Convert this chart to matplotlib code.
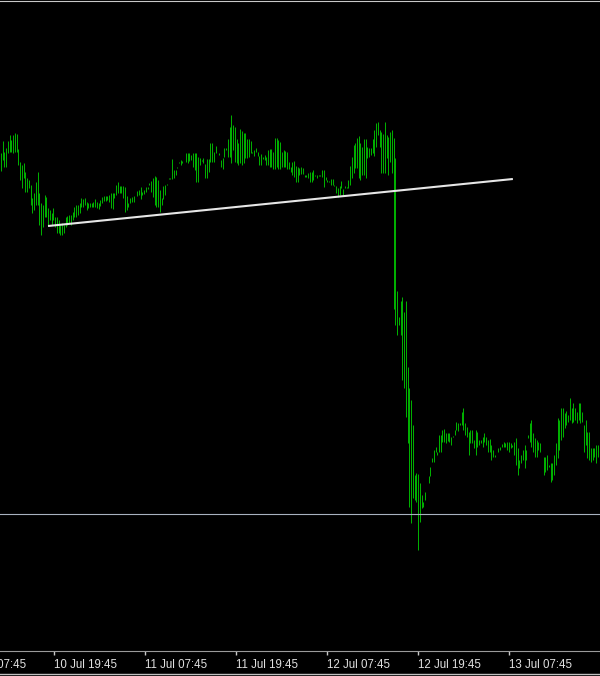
import numpy as np
import matplotlib
matplotlib.use("Agg")
import matplotlib.pyplot as plt

# bar highs / lows in points, oldest bar first
highs = [498, 510, 499, 503, 510, 516, 511, 516, 518, 517, 502, 489, 486, 488, 479, 473, 471, 466, 453, 458,
         469, 479, 458, 448, 446, 456, 454, 443, 441, 438, 443, 434, 434, 431, 426, 428, 426, 434, 435, 436,
         436, 439, 444, 446, 446, 448, 453, 452, 453, 449, 448, 448, 448, 449, 452, 449, 448, 451, 454, 455,
         455, 455, 456, 458, 458, 458, 466, 469, 465, 465, 465, 464, 455, 448, 453, 454, 455, 455, 460, 461,
         464, 459, 461, 464, 464, 468, 470, 473, 475, 474, 471, 461, 453, 452, 456, 466, 472, 473, 492, 481,
         481, 483, 489, 486, 488, 491, 498, 498, 498, 496, 498, 498, 498, 494, 493, 491, 493, 487, 492, 492,
         508, 508, 499, 505, 504, 498, 491, 493, 503, 503, 512, 524, 536, 526, 524, 512, 508, 522, 520, 518,
         518, 512, 512, 510, 498, 495, 499, 495, 495, 497, 492, 496, 494, 501, 502, 502, 499, 513, 513, 511,
         509, 499, 501, 500, 499, 489, 484, 489, 490, 485, 484, 483, 484, 483, 476, 476, 478, 479, 479, 481,
         476, 476, 476, 476, 481, 481, 474, 471, 470, 472, 472, 466, 465, 463, 465, 470, 462, 465, 463, 471,
         485, 494, 506, 508, 513, 515, 508, 504, 512, 512, 504, 503, 503, 512, 521, 528, 529, 521, 519, 517,
         529, 516, 514, 519, 521, 513, 493, 360, 326, 350, 354, 339, 350, 284, 263, 251, 226, 176, 178, 177,
         168, 156, 149, 151, 163, 175, 175, 193, 201, 199, 196, 216, 216, 221, 222, 218, 218, 218, 214, 215,
         216, 229, 228, 228, 239, 243, 228, 224, 219, 221, 221, 211, 221, 219, 211, 211, 214, 218, 214, 211,
         212, 206, 201, 194, 194, 203, 204, 207, 209, 208, 209, 209, 208, 206, 209, 213, 203, 191, 196, 201,
         206, 201, 216, 228, 231, 218, 213, 211, 209, 208, 194, 194, 194, 196, 186, 188, 188, 196, 208, 233,
         231, 243, 243, 238, 240, 236, 253, 243, 248, 243, 239, 248, 248, 239, 226, 231, 219, 219, 203, 203,
         203, 206, 206]
lows = [480, 491, 484, 484, 498, 499, 499, 498, 499, 499, 486, 471, 463, 473, 459, 459, 463, 446, 438, 441,
        446, 446, 426, 416, 424, 434, 434, 426, 431, 426, 431, 424, 418, 418, 416, 416, 418, 424, 426, 428,
        426, 431, 434, 434, 436, 438, 444, 444, 446, 441, 443, 444, 444, 444, 444, 443, 442, 445, 448, 450,
        450, 451, 449, 443, 442, 453, 456, 458, 458, 458, 453, 439, 441, 444, 448, 449, 449, 455, 455, 456,
        452, 456, 457, 459, 462, 466, 459, 454, 446, 444, 444, 439, 446, 465, 466, 467, 473, 472, 472, 473,
        476, 484, 488, 491, 490, 491, 489, 488, 490, 491, 484, 481, 469, 469, 486, 490, 488, 473, 473, 479,
        489, 489, 489, 498, 504, 496, 484, 482, 494, 501, 494, 494, 488, 501, 489, 488, 486, 488, 486, 488,
        493, 493, 494, 498, 499, 501, 503, 499, 486, 486, 494, 491, 486, 486, 484, 484, 482, 482, 484, 482,
        482, 484, 484, 484, 482, 482, 479, 476, 474, 469, 469, 476, 477, 477, 474, 474, 473, 469, 469, 471,
        475, 473, 475, 475, 474, 464, 471, 469, 469, 466, 466, 465, 458, 454, 456, 463, 456, 463, 464, 463,
        466, 473, 478, 483, 483, 473, 471, 476, 476, 473, 493, 494, 496, 498, 495, 504, 516, 504, 478, 478,
        478, 493, 476, 489, 478, 342, 326, 316, 334, 316, 271, 263, 234, 208, 144, 128, 153, 151, 149, 101,
        129, 143, 144, 159, 163, 168, 184, 189, 189, 204, 199, 199, 199, 209, 209, 208, 210, 209, 206, 214,
        221, 221, 220, 226, 226, 221, 216, 214, 196, 208, 208, 203, 196, 204, 206, 208, 204, 209, 206, 199,
        199, 191, 194, 196, 194, 199, 201, 204, 204, 204, 201, 199, 203, 204, 196, 186, 176, 183, 188, 191,
        183, 191, 213, 209, 204, 199, 194, 194, 201, 199, 194, 176, 179, 181, 184, 169, 171, 176, 186, 193,
        201, 211, 214, 223, 226, 229, 231, 228, 229, 231, 228, 231, 228, 229, 199, 206, 193, 191, 189, 191,
        194, 188, 194]

first_bar_h = -7.0    # hours from 10 Jul 19:45
last_bar_h = 71.7

level = 137           # horizontal line
trend_h = [-0.8, 60.5]
trend_p = [425, 472]

tick_h = [-12, 0, 12, 24, 36, 48, 60]
tick_labels = ["10 Jul 07:45", "10 Jul 19:45", "11 Jul 07:45", "11 Jul 19:45",
               "12 Jul 07:45", "12 Jul 19:45", "13 Jul 07:45"]

n = min(len(highs), len(lows))
bar_h = np.linspace(first_bar_h, last_bar_h, n)

fig = plt.figure(figsize=(6, 6.76), dpi=100, facecolor="black")
ax = fig.add_axes([0, 25 / 676, 1, 650 / 676])
ax.set_facecolor("black")

ax.vlines(bar_h, lows[:n], highs[:n], colors="#00d200", linewidth=0.6)
ax.axhline(level, color="#a8b2bf", linewidth=0.8)
ax.plot(trend_h, trend_p, color="#e6e6e6", linewidth=1.5, solid_capstyle="butt")

px_h = 12 / 91
ax.set_xlim(first_bar_h - 1 * px_h, first_bar_h + 599 * px_h)
ax.set_ylim(0, 650)

for s in ["left", "right"]:
    ax.spines[s].set_visible(False)
ax.spines["top"].set_color("#c8c8c8")
ax.spines["bottom"].set_color("#9a9a9a")
ax.set_yticks([])
ax.set_xticks(tick_h[1:])
ax.set_xticklabels([])
ax.tick_params(axis="x", colors="#c8c8c8", length=3, width=1, direction="out")

for h, lab in zip(tick_h, tick_labels):
    ax.text(h, -0.012, lab, transform=ax.get_xaxis_transform(), ha="left", va="top",
            color="#e0e0e0", fontsize=8.3, family="Liberation Sans", clip_on=False)

# bottom frame line
fig.add_artist(plt.Line2D([0, 1], [2.5 / 676, 2.5 / 676], color="#c0c0c0", linewidth=1,
                          transform=fig.transFigure))

fig.savefig("out.png", dpi=100, facecolor="black")
